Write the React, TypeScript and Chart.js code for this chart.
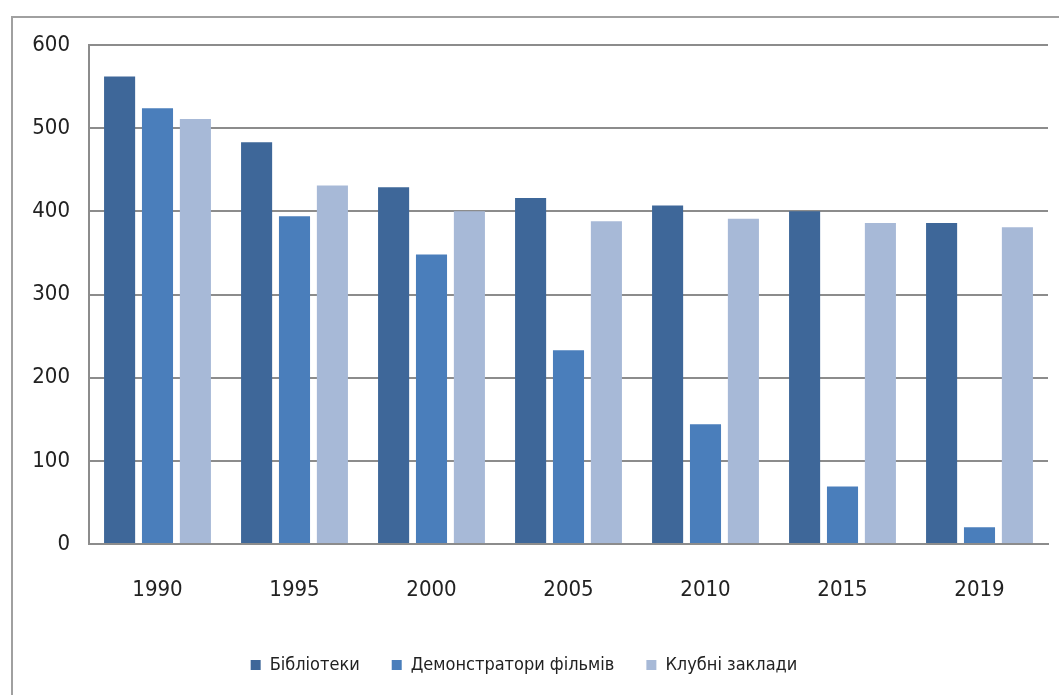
import React, { useEffect, useRef } from "react";
import { Chart, registerables } from "chart.js";

Chart.register(...registerables);

const categories = ["1990", "1995", "2000", "2005", "2010", "2015", "2019"];
const libraries = [562, 483, 429, 416, 407, 400, 386];
const filmScreens = [524, 394, 348, 233, 144, 69, 20];
const clubs = [511, 431, 400, 388, 391, 386, 381];
const seriesNames = ["Бібліотеки", "Демонстратори фільмів", "Клубні заклади"];
const yTicks = [0, 100, 200, 300, 400, 500, 600];

const FONT = "'Liberation Sans Narrow', 'DejaVu Sans Condensed', 'Liberation Sans', sans-serif";

export default function App() {
  const ref = useRef<HTMLCanvasElement | null>(null);

  useEffect(() => {
    if (!ref.current) return;
    const chart = new Chart(ref.current, {
      type: "bar",
      data: {
        labels: categories,
        datasets: [
          { label: seriesNames[0], data: libraries, backgroundColor: "#3e6799" },
          { label: seriesNames[1], data: filmScreens, backgroundColor: "#4a7ebb" },
          { label: seriesNames[2], data: clubs, backgroundColor: "#a7b9d7" },
        ],
      },
      options: {
        animation: false,
        responsive: true,
        maintainAspectRatio: false,
        layout: { padding: { left: 0, right: 11, top: 45, bottom: 11 } },
        datasets: { bar: { categoryPercentage: 0.83, barPercentage: 0.82 } },
        plugins: {
          tooltip: { enabled: false },
          legend: {
            position: "bottom",
            labels: {
              boxWidth: 10,
              boxHeight: 10,
              padding: 32,
              color: "#222",
              font: { family: FONT, size: 18 },
            },
          },
        },
        scales: {
          x: {
            grid: { display: false, drawTicks: false },
            border: { display: true, color: "#8c8c8c", width: 2 },
            ticks: { padding: 33, color: "#222", font: { family: FONT, size: 22 } },
            afterFit: (s: any) => { s.height = 80; },
          },
          y: {
            min: 0,
            max: 600,
            afterBuildTicks: (s: any) => { s.ticks = yTicks.map((v) => ({ value: v })); },
            grid: { color: "#8c8c8c", lineWidth: 2, drawTicks: false },
            border: { display: true, color: "#8c8c8c", width: 2 },
            ticks: { padding: 19, color: "#222", font: { family: FONT, size: 22 } },
            afterFit: (s: any) => { s.width = 89; },
          },
        },
      },
    });
    return () => chart.destroy();
  }, []);

  return (
    <div style={{ position: "fixed", left: 0, top: 0, width: 1059, height: 695, background: "#fff" }}>
      <div
        style={{
          position: "absolute",
          left: 11,
          top: 16,
          width: 1048,
          height: 679,
          borderTop: "2px solid #a0a0a0",
          borderLeft: "2px solid #a0a0a0",
          boxSizing: "border-box",
        }}
      />
      <canvas ref={ref} style={{ position: "absolute", left: 0, top: 0, width: 1059, height: 695 }} />
    </div>
  );
}
